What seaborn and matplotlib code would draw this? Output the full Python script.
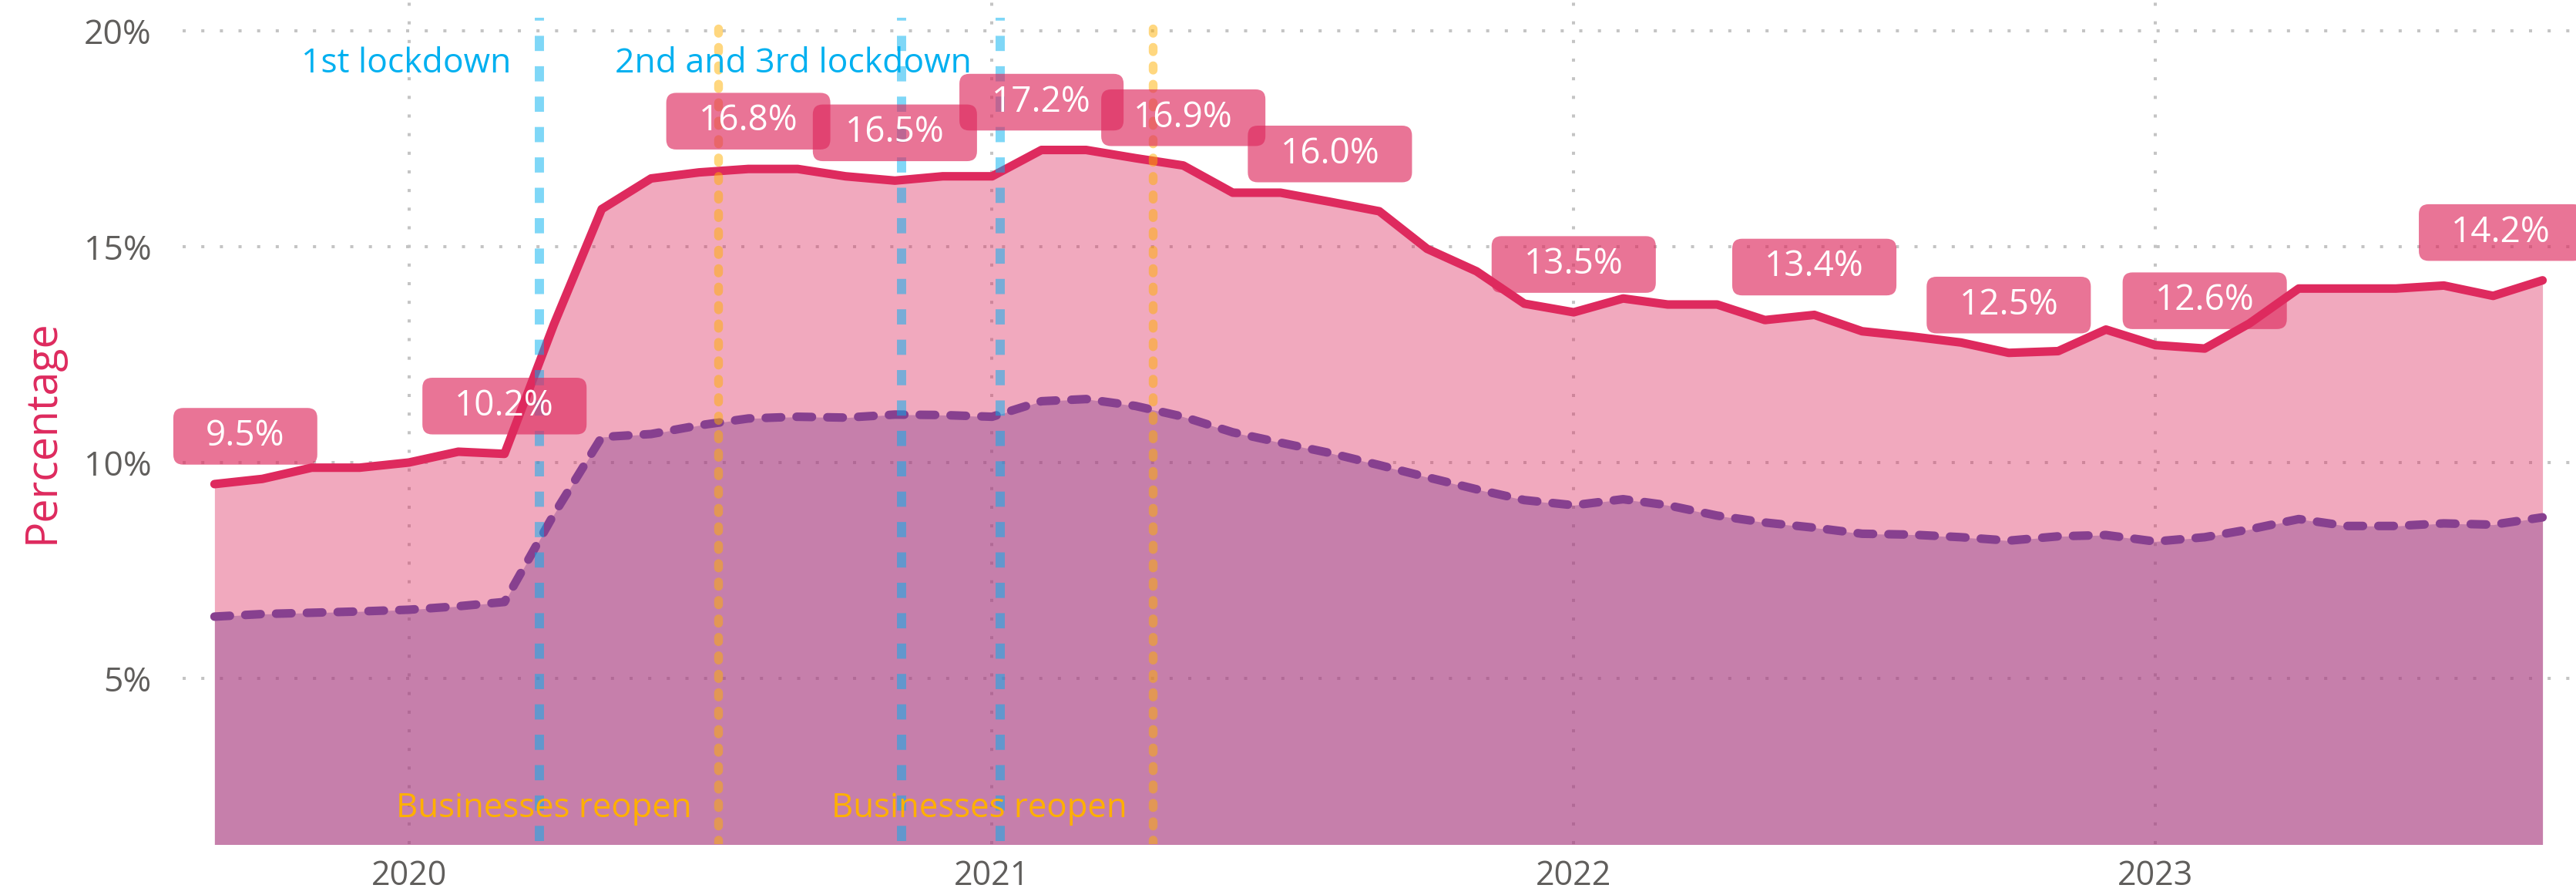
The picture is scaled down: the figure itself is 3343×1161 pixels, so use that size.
import numpy as np
import pandas as pd
import matplotlib
matplotlib.use("Agg")
import matplotlib.pyplot as plt
import matplotlib.dates as mdates
from matplotlib.patches import BoxStyle
import seaborn as sns

# ---------------- data ----------------
months = pd.date_range("2019-09-01", "2023-09-01", freq="MS")

total_pct = [9.50, 9.62, 9.88, 9.88, 10.00, 10.25, 10.20, 13.20, 15.87, 16.58,
             16.72, 16.80, 16.80, 16.63, 16.53, 16.63, 16.63, 17.24, 17.24, 17.05,
             16.88, 16.25, 16.25, 16.04, 15.82, 14.95, 14.43, 13.68, 13.48, 13.80,
             13.66, 13.66, 13.30, 13.42, 13.04, 12.92, 12.78, 12.54, 12.58, 13.08,
             12.72, 12.64, 13.22, 14.03, 14.03, 14.03, 14.10, 13.86, 14.22]

subgroup_pct = [6.43, 6.49, 6.52, 6.55, 6.59, 6.67, 6.77, 8.80, 10.59, 10.66,
                10.86, 11.02, 11.06, 11.04, 11.11, 11.10, 11.06, 11.42, 11.47, 11.31,
                11.06, 10.70, 10.46, 10.22, 9.94, 9.66, 9.38, 9.13, 9.01, 9.15,
                9.01, 8.77, 8.61, 8.49, 8.35, 8.33, 8.27, 8.19, 8.29, 8.32,
                8.17, 8.27, 8.45, 8.69, 8.53, 8.53, 8.59, 8.56, 8.73]

labeled_months = ["2019-09", "2020-03", "2020-08", "2020-11", "2021-02", "2021-05",
                  "2021-08", "2022-01", "2022-06", "2022-10", "2023-02", "2023-09"]

lockdown_dates = ["2020-03-23", "2020-11-05", "2021-01-06"]
reopen_dates = ["2020-07-13", "2021-04-12"]
lockdown_texts = [("1st lockdown", "2020-03-23"), ("2nd and 3rd lockdown", "2021-01-06")]
reopen_texts = [("Businesses reopen", "2020-07-13"), ("Businesses reopen", "2021-04-12")]

y_ticks = [5, 10, 15, 20]
year_ticks = ["2020", "2021", "2022", "2023"]
y_label = "Percentage"

# ---------------- style ----------------
RED = "#DE2A5E"
PURPLE = "#87408F"
BLUE = "#00B0F0"
ORANGE = "#FFB000"
GRAY_TXT = "#605E5C"
GRID = "#C4C4C4"

sns.set_theme(style="white")
plt.rcParams["font.family"] = ["Open Sans", "DejaVu Sans"]

W, H = 3343, 1161
fig = plt.figure(figsize=(W / 100, H / 100), dpi=100)
ax_left, ax_bottom_px = 237, 1095
ax = fig.add_axes([ax_left / W, (H - ax_bottom_px) / H, 1 - ax_left / W, ax_bottom_px / H])

df = pd.DataFrame({"month": months, "total": total_pct, "subgroup": subgroup_pct})

# fills
ax.fill_between(df["month"], 0, df["total"], color=RED, alpha=0.40, linewidth=0, zorder=1)
ax.fill_between(df["month"], 0, df["subgroup"], color=PURPLE, alpha=0.40, linewidth=0, zorder=1.1)

# lines via seaborn
sns.lineplot(data=df, x="month", y="subgroup", ax=ax, color=PURPLE, linewidth=8, zorder=2)
sub_line = ax.get_lines()[-1]
sub_line.set_dashes((1.8, 1.8))
sub_line.set_dash_capstyle("round")
sns.lineplot(data=df, x="month", y="total", ax=ax, color=RED, linewidth=8, zorder=3)
tot_line = ax.get_lines()[-1]
tot_line.set_solid_capstyle("round")
tot_line.set_solid_joinstyle("round")

# event lines
for d in lockdown_dates:
    ln = ax.axvline(pd.Timestamp(d), ymin=0.004, ymax=0.979, color=BLUE, alpha=0.5,
                    linewidth=8.6, zorder=4)
    ln.set_dashes((1.65, 1.65))
for d in reopen_dates:
    ln = ax.axvline(pd.Timestamp(d), ymin=0.0, ymax=0.979, color=ORANGE, alpha=0.5,
                    linewidth=8.2, zorder=4)
    ln.set_dashes((0.5, 1.6))
    ln.set_dash_capstyle("round")

for txt, d in lockdown_texts:
    ax.annotate(txt, xy=(pd.Timestamp(d), 0.924), xycoords=("data", "axes fraction"),
                xytext=(-37, 0), textcoords="offset pixels", ha="right", va="center",
                fontsize=32, color=BLUE, zorder=6)
for txt, d in reopen_texts:
    ax.annotate(txt, xy=(pd.Timestamp(d), 0.042), xycoords=("data", "axes fraction"),
                xytext=(-34, 0), textcoords="offset pixels", ha="right", va="center",
                fontsize=31.5, color=ORANGE, zorder=6)


# value labels with rounded boxes
def label_box(x0, y0, width, height, mutation_size):
    padx = 0.92 * mutation_size
    pady = 0.30 * mutation_size
    return BoxStyle.Round(pad=0, rounding_size=0.28)(
        x0 - padx, y0 - pady, width + 2 * padx, height + 2 * pady, mutation_size)


lab_set = set(labeled_months)
n = len(months)
for i, (m, v) in enumerate(zip(months, total_pct)):
    if m.strftime("%Y-%m") not in lab_set:
        continue
    dx = 0
    if i == 0:
        dx = 40
    elif i == n - 1:
        dx = -54
    ax.annotate(f"{v:.1f}%", xy=(m, v), xytext=(dx, 39), textcoords="offset pixels",
                ha="center", va="bottom", fontsize=33, color="white", zorder=7,
                bbox=dict(boxstyle=label_box, facecolor=RED, alpha=0.65, edgecolor="none"),
                annotation_clip=False)

# axes
ax.set_ylim(1.16, 20.714)
ax.set_xlim(pd.Timestamp("2019-08-12"), pd.Timestamp("2023-09-22"))
ax.set_yticks(y_ticks)
ax.set_yticklabels([f"{t}%" for t in y_ticks])
ax.set_xticks([pd.Timestamp(f"{y}-01-01") for y in year_ticks])
ax.set_xticklabels(year_ticks)
ax.tick_params(axis="y", length=0, pad=29, labelsize=32, labelcolor=GRAY_TXT)
ax.tick_params(axis="x", length=0, pad=14, labelsize=31, labelcolor=GRAY_TXT)
ax.set_xlabel("")
ax.set_ylabel(y_label, fontsize=40, color=RED)
ax.yaxis.set_label_coords(-0.0493, 0.489)

for s in ax.spines.values():
    s.set_visible(False)

ax.set_axisbelow(True)
ax.grid(True, axis="both", color=GRID, linewidth=2.9, dashes=(1, 5))

fig.savefig("out.png", dpi=100)
